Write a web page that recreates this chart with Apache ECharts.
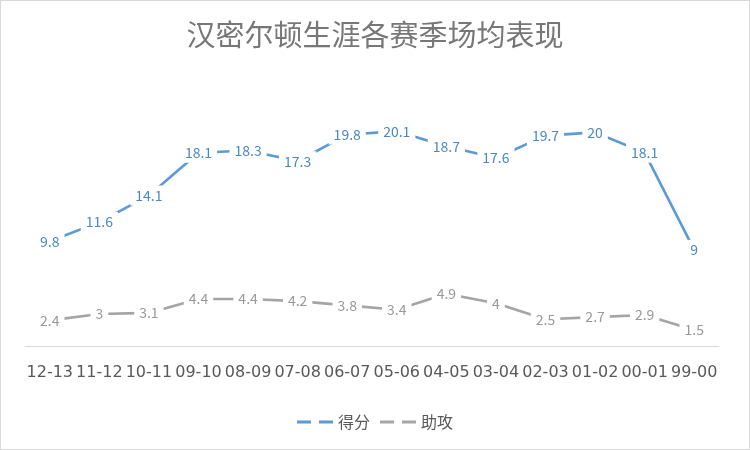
<!DOCTYPE html>
<html>
<head>
<meta charset="utf-8">
<script src="https://cdn.jsdelivr.net/npm/echarts@6/dist/echarts.min.js"></script>
<style>
  html, body { margin: 0; padding: 0; background: #fff; }
  #main { width: 750px; height: 450px; box-sizing: border-box; border: 1px solid #d9d9d9; }
</style>
</head>
<body>
<div id="main"></div>
<script>
// 赛季
var seasons = ['12-13', '11-12', '10-11', '09-10', '08-09', '07-08', '06-07',
  '05-06', '04-05', '03-04', '02-03', '01-02', '00-01', '99-00'];
// 得分
var points = [9.8, 11.6, 14.1, 18.1, 18.3, 17.3, 19.8, 20.1, 18.7, 17.6, 19.7, 20, 18.1, 9];
// 助攻
var assists = [2.4, 3, 3.1, 4.4, 4.4, 4.2, 3.8, 3.4, 4.9, 4, 2.5, 2.7, 2.9, 1.5];

var font = '"Noto Sans CJK SC", "Noto Sans", sans-serif';
var legendIcon = 'path://M0,0h14v3h-14z M22,0h14v3h-14z';

function lineSeries(name, data, color, labelColor) {
  return {
    name: name,
    type: 'line',
    data: data,
    symbol: 'circle',
    symbolSize: 1,
    itemStyle: { color: 'rgba(0,0,0,0)' },
    lineStyle: { color: color, width: 2.6 },
    label: {
      show: true,
      position: 'inside',
      color: labelColor,
      fontSize: 14,
      fontFamily: font,
      backgroundColor: '#fff',
      padding: [3, 5]
    },
    emphasis: { disabled: true }
  };
}

var chart = echarts.init(document.getElementById('main'));
chart.setOption({
  animation: false,
  title: {
    text: '汉密尔顿生涯各赛季场均表现',
    left: 'center',
    top: 14,
    textStyle: { color: '#777777', fontSize: 29, fontWeight: 'normal', fontFamily: font }
  },
  legend: {
    bottom: 14,
    left: 'center',
    itemWidth: 36,
    itemHeight: 3,
    itemGap: 10,
    textStyle: { color: '#595959', fontSize: 16, fontFamily: font },
    data: [
      { name: '得分', icon: legendIcon, itemStyle: { color: '#5B9BD5' } },
      { name: '助攻', icon: legendIcon, itemStyle: { color: '#A5A5A5' } }
    ]
  },
  grid: { left: 24, right: 30, top: 78, bottom: 103 },
  xAxis: {
    type: 'category',
    data: seasons,
    axisLine: { lineStyle: { color: '#d9d9d9', width: 1 } },
    axisTick: { show: false },
    axisLabel: { color: '#595959', fontSize: 16, fontFamily: '"DejaVu Sans", sans-serif', margin: 19, interval: 0 }
  },
  yAxis: {
    type: 'value',
    min: 0,
    max: 25,
    show: false,
    splitLine: { show: false }
  },
  series: [
    lineSeries('得分', points, '#5B9BD5', '#4A89C3'),
    lineSeries('助攻', assists, '#A5A5A5', '#999999')
  ]
});
</script>
</body>
</html>
